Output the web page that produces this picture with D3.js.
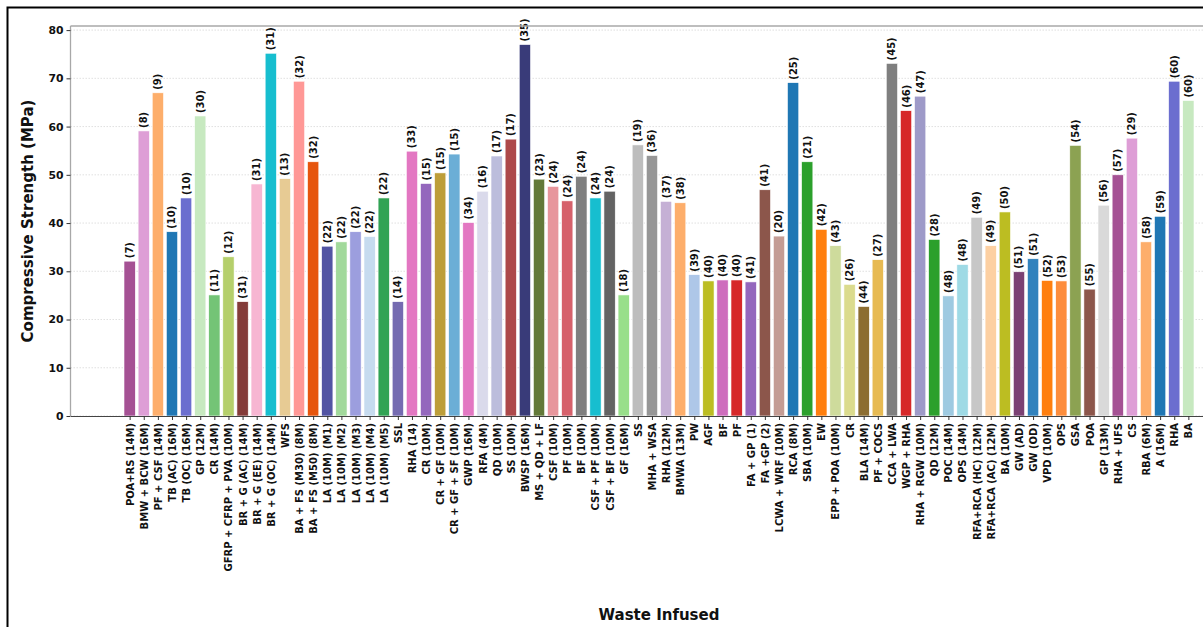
<!DOCTYPE html>
<html>
<head>
<meta charset="utf-8">
<script src="https://cdn.jsdelivr.net/npm/d3@7"></script>
<style>
  html, body { margin: 0; padding: 0; background: #fff; overflow: hidden; }
  svg { display: block; font-family: "DejaVu Sans", sans-serif; }
</style>
</head>
<body>
<svg id="chart" width="1203" height="627"></svg>
<script>
// Waste material / mix designation for each specimen
const categories = [
  "POA+RS (14M)", "BMW + BCW (16M)", "PF + CSF (14M)", "TB (AC) (16M)", "TB (OC) (16M)",
  "GP (12M)", "CR (14M)", "GFRP + CFRP + PVA (10M)", "BR + G (AC) (14M)", "BR + G (EE) (14M)",
  "BR + G (OC) (14M)", "WFS", "BA + FS (M30) (8M)", "BA + FS (M50) (8M)", "LA (10M) (M1)",
  "LA (10M) (M2)", "LA (10M) (M3)", "LA (10M) (M4)", "LA (10M) (M5)", "SSL",
  "RHA (14)", "CR (10M)", "CR + GF (10M)", "CR + GF + SF (10M)", "GWP (16M)",
  "RFA (4M)", "QD (10M)", "SS (10M)", "BWSP (16M)", "MS + QD + LF",
  "CSF (10M)", "PF (10M)", "BF (10M)", "CSF + PF (10M)", "CSF + BF (10M)",
  "GF (16M)", "SS", "MHA + WSA", "RHA (12M)", "BMWA (13M)",
  "PW", "AGF", "BF", "PF", "FA + GP (1)",
  "FA +GP (2)", "LCWA + WRF (10M)", "RCA (8M)", "SBA (10M)", "EW",
  "EPP + POA (10M)", "CR", "BLA (14M)", "PF + COCS", "CCA + LWA",
  "WGP + RHA", "RHA + RGW (10M)", "QD (12M)", "POC (14M)", "OPS (14M)",
  "RFA+RCA (HC) (12M)", "RFA+RCA (AC) (12M)", "BA (10M)", "GW (AD)", "GW (OD)",
  "VPD (10M)", "OPS", "GSA", "POA", "GP (13M)",
  "RHA + UFS", "CS", "RBA (6M)", "A (16M)", "RHA",
  "BA"
];

// Compressive strength, MPa
const strength = [
  32.1, 59.1, 67.0, 38.2, 45.2,
  62.2, 25.1, 33.0, 23.7, 48.1,
  75.2, 49.2, 69.4, 52.7, 35.2,
  36.1, 38.2, 37.2, 45.2, 23.7,
  54.9, 48.2, 50.4, 54.3, 40.1,
  46.6, 53.9, 57.4, 77.0, 49.1,
  47.6, 44.6, 49.7, 45.2, 46.6,
  25.1, 56.2, 54.0, 44.5, 44.2,
  29.3, 28.0, 28.2, 28.2, 27.8,
  46.9, 37.3, 69.1, 52.7, 38.7,
  35.3, 27.3, 22.7, 32.4, 73.1,
  63.3, 66.3, 36.6, 24.9, 31.4,
  41.2, 35.3, 42.3, 29.9, 32.6,
  28.1, 28.0, 56.1, 26.3, 43.7,
  50.0, 57.6, 36.1, 41.4, 69.4,
  65.4
];

// Reference number cited for each bar
const refs = [
  7, 8, 9, 10, 10,
  30, 11, 12, 31, 31,
  31, 13, 32, 32, 22,
  22, 22, 22, 22, 14,
  33, 15, 15, 15, 34,
  16, 17, 17, 35, 23,
  24, 24, 24, 24, 24,
  18, 19, 36, 37, 38,
  39, 40, 40, 40, 41,
  41, 20, 25, 21, 42,
  43, 26, 44, 27, 45,
  46, 47, 28, 48, 48,
  49, 49, 50, 51, 51,
  52, 53, 54, 55, 56,
  57, 29, 58, 59, 60,
  60
];

const yTicks = [0, 10, 20, 30, 40, 50, 60, 70, 80];

// Bar palette, cycled when there are more bars than colours
const palette = [
  "#a55194", "#de9ed6", "#fdae6b", "#1f77b4", "#6b6ecf", "#c7e9c0", "#74c476", "#b5cf6b", "#843c39", "#f7b6d2",
  "#17becf", "#e7cb94", "#ff9896", "#e6550d", "#5254a3", "#a1d99b", "#9c9ede", "#c6dbef", "#31a354", "#756bb1",
  "#e377c2", "#9467bd", "#bd9e39", "#6baed6", "#e377c2", "#dadaeb", "#bcbddc", "#ad494a", "#393b79", "#637939",
  "#e7969c", "#d6616b", "#7f7f7f", "#17becf", "#636363", "#98df8a", "#bdbdbd", "#969696", "#c5b0d5", "#fdae6b",
  "#aec7e8", "#bcbd22", "#ce6dbd", "#d62728", "#9467bd", "#8c564b", "#c49c94", "#1f77b4", "#2ca02c", "#ff7f0e",
  "#cedb9c", "#dbdb8d", "#8c6d31", "#e7ba52", "#7f7f7f", "#d62728", "#9e9ac8", "#2ca02c", "#9ecae1", "#9edae5",
  "#c7c7c7", "#fdd0a2", "#bcbd22", "#7b4173", "#3182bd", "#ff7f0e", "#fd8d3c", "#8ca252", "#8c564b", "#d9d9d9"
];

const svg = d3.select("#chart");

// Outer frame around the figure
svg.append("rect")
  .attr("x", 7.5).attr("y", 7.5)
  .attr("width", 1260).attr("height", 700)
  .attr("fill", "none").attr("stroke", "#000").attr("stroke-width", 2);

const plot = { left: 70.5, right: 1247.5, top: 26, bottom: 416 };
const barWidth = 0.8;
const n = categories.length;
const span = (n - 1) + barWidth;
const pad = span * 0.05;

const x = d3.scaleLinear()
  .domain([-barWidth / 2 - pad, n - 1 + barWidth / 2 + pad])
  .range([plot.left, plot.right]);

const yMax = d3.max(strength) * 1.05;
const y = d3.scaleLinear()
  .domain([0, yMax])
  .range([plot.bottom, plot.top]);

// Horizontal grid
svg.append("g")
  .selectAll("line")
  .data(yTicks)
  .join("line")
  .attr("x1", plot.left).attr("x2", plot.right)
  .attr("y1", d => y(d)).attr("y2", d => y(d))
  .attr("stroke", "#d8d8d8")
  .attr("stroke-width", 0.8)
  .attr("stroke-dasharray", "1.5,1.5");

// Bars
svg.append("g")
  .selectAll("rect")
  .data(strength)
  .join("rect")
  .attr("x", (d, i) => x(i - barWidth / 2))
  .attr("width", (d, i) => x(i + barWidth / 2) - x(i - barWidth / 2))
  .attr("y", d => y(d))
  .attr("height", d => y(0) - y(d))
  .attr("fill", (d, i) => palette[i % palette.length])
  .attr("stroke", "#fff")
  .attr("stroke-width", 0.6);

// Reference labels above each bar
svg.append("g")
  .selectAll("text")
  .data(strength)
  .join("text")
  .attr("transform", (d, i) => `translate(${x(i)},${y(d) - 3}) rotate(-90)`)
  .attr("dy", "0.35em")
  .attr("text-anchor", "start")
  .attr("font-size", 10)
  .attr("font-weight", "bold")
  .attr("fill", "#111")
  .text((d, i) => `(${refs[i]})`);

// Spines
svg.append("line")
  .attr("x1", plot.left).attr("x2", plot.right)
  .attr("y1", plot.top).attr("y2", plot.top)
  .attr("stroke", "#a8a8a8").attr("stroke-width", 1.6);
svg.append("line")
  .attr("x1", plot.left).attr("x2", plot.left)
  .attr("y1", plot.top).attr("y2", plot.bottom)
  .attr("stroke", "#a8a8a8").attr("stroke-width", 1.3);

// Y axis
const yAxis = svg.append("g")
  .attr("transform", `translate(${plot.left},0)`)
  .call(d3.axisLeft(y).tickValues(yTicks).tickSize(4).tickSizeOuter(0).tickPadding(3).tickFormat(d3.format("d")));
yAxis.select(".domain").remove();
yAxis.selectAll(".tick line").attr("stroke", "#333");
yAxis.selectAll(".tick text")
  .attr("font-size", 10.8).attr("font-weight", "bold").attr("fill", "#111")
  .attr("font-family", "DejaVu Sans, sans-serif");

// X axis
const xAxis = svg.append("g")
  .attr("transform", `translate(0,${plot.bottom})`)
  .call(d3.axisBottom(x).tickValues(d3.range(n)).tickSize(4).tickSizeOuter(0).tickPadding(3).tickFormat(i => categories[i]));
xAxis.select(".domain").attr("stroke", "#444").attr("stroke-width", 1.2);
xAxis.selectAll(".tick line").attr("stroke", "#333");
xAxis.selectAll(".tick text")
  .attr("font-size", 10).attr("font-weight", "bold").attr("fill", "#111")
  .attr("font-family", "DejaVu Sans, sans-serif")
  .attr("text-anchor", "end")
  .attr("transform", "rotate(-90)")
  .attr("x", -7).attr("y", 0).attr("dy", "0.35em");

// Axis titles
svg.append("text")
  .attr("transform", `translate(28,${(plot.top + plot.bottom) / 2}) rotate(-90)`)
  .attr("text-anchor", "middle")
  .attr("dy", "0.35em")
  .attr("font-size", 15)
  .attr("font-weight", "bold")
  .attr("fill", "#111")
  .text("Compressive Strength (MPa)");

svg.append("text")
  .attr("x", (plot.left + plot.right) / 2)
  .attr("y", 615)
  .attr("text-anchor", "middle")
  .attr("dy", "0.35em")
  .attr("font-size", 15)
  .attr("font-weight", "bold")
  .attr("fill", "#111")
  .text("Waste Infused");
</script>
</body>
</html>
